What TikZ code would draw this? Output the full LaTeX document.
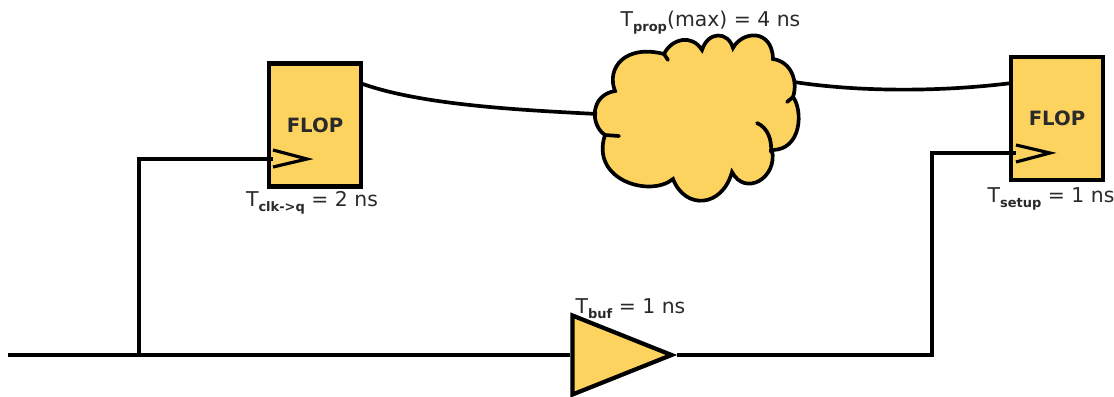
\documentclass[tikz,border=0pt]{standalone}
\usepackage{fontspec}
\setmainfont{DejaVu Sans}
\usetikzlibrary{shapes.geometric}
\definecolor{flopfill}{HTML}{FDD360}
\definecolor{lbltext}{HTML}{2A2A2A}
\newcommand{\lblsub}[1]{\raisebox{-0.45ex}{\fontsize{7.4}{8}\selectfont\bfseries #1}}

\begin{document}
\begin{tikzpicture}[
    x=0.02cm, y=-0.02cm,
    flop/.style={rectangle, draw=black, line width=2.4pt, fill=flopfill, minimum width=1.84cm, minimum height=2.46cm, inner sep=0pt, font=\bfseries\fontsize{11.2}{12}\selectfont, text=lbltext},
    buffer/.style={isosceles triangle, isosceles triangle stretches, draw=black, line width=2.4pt, fill=flopfill, minimum width=1.58cm, minimum height=1.98cm, inner sep=0pt},
    wire/.style={draw=black, line width=2.1pt},
    clkmark/.style={draw=black, line width=1.8pt},
    cloudline/.style={draw=black, line width=2.1pt, line cap=round},
    lbl/.style={font=\fontsize{11.6}{12}\selectfont, text=lbltext, inner sep=0pt}
]
    \useasboundingbox (0,0) rectangle (1114,396);

    % Flops and buffer
    \node[flop] (flopa) at (315,125) {FLOP};
    \node[flop] (flopb) at (1057,118.5) {FLOP};
    \node[buffer, anchor=apex] (buf) at (677,355) {};

    % Clock marks
    \draw[clkmark] (273,150) -- (307,159) -- (273,167);
    \draw[clkmark] (1016,145) -- (1050,153) -- (1016,162);

    % Cloud
    \draw[cloudline, fill=flopfill] (615,91)
        .. controls (606,68) and (625,44) .. (664,54)
        .. controls (672,38) and (692,34) .. (702,50)
        .. controls (708,31) and (728,31) .. (733,48)
        .. controls (742,31) and (772,28) .. (773,59)
        .. controls (792,62) and (798,82) .. (793,97)
        .. controls (803,110) and (802,150) .. (772,150)
        .. controls (778,178) and (745,197) .. (732,172)
        .. controls (722,208) and (685,210) .. (673,179)
        .. controls (650,198) and (590,180) .. (605,135)
        .. controls (590,125) and (590,95) .. (615,91) -- cycle;
    \draw[cloudline] (664,54) -- (668,60);
    \draw[cloudline] (605,135) -- (619,136);
    \draw[cloudline] (793,97) -- (787,102);
    \draw[cloudline] (757,123) .. controls (768,128) and (772,140) .. (771,152);

    % Wire ends
    \coordinate (clkroot) at (8,355);
    \coordinate (tap) at (139,355);
    \coordinate (bend) at (932,355);
    \coordinate (clka) at (273,159);
    \coordinate (clkb) at (1016,153);
    \coordinate (qa) at (360,83);
    \coordinate (db) at (1012,83);
    \coordinate (cloudin) at (597,114);
    \coordinate (cloudout) at (794,82);

    % Wires
    \draw[wire] (clkroot) -- (buf.west);
    \draw[wire] (tap) |- (clka);
    \draw[wire] (buf.apex) -- (bend) |- (clkb);
    \draw[wire] (qa) .. controls (420,105) and (520,110) .. (cloudin);
    \draw[wire] (cloudout) .. controls (860,92) and (940,92) .. (db);

    % Delay labels
    \node[lbl] (tprop) at (710.5,23) {T\lblsub{prop}(max) = 4 ns};
    \node[lbl] (tclk) at (312,203) {T\lblsub{clk->q} = 2 ns};
    \node[lbl] (tsetup) at (1051,199) {T\lblsub{setup} = 1 ns};
    \node[lbl] (tbuf) at (630.5,309) {T\lblsub{buf} = 1 ns};
\end{tikzpicture}
\end{document}
